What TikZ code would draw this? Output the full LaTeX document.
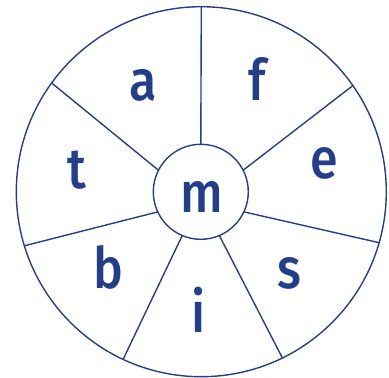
\documentclass[tikz,border=0pt]{standalone}
\usepackage{fontspec}
\setmainfont{Fira Sans Medium}[FakeStretch=0.88]
\usepackage{tikz}
\definecolor{navy}{HTML}{233F8C}

\begin{document}
\begin{tikzpicture}[
  x=1pt, y=-1pt,
  rim/.style={draw=navy, line width=1.4pt, circle, inner sep=0pt, outer sep=0pt},
  spoke/.style={draw=navy, line width=1.4pt},
  letter/.style={text=navy, anchor=base, inner sep=0pt, font=\fontsize{57}{57}\selectfont}
]
  \useasboundingbox (0,0) rectangle (389,378);
  \node[rim, minimum size=370pt] (wheel) at (201.3,191.7) {};
  \node[rim, minimum size=95pt] (hub) at (200.8,191.8) {};
  % spokes: hub angle / rim angle
  \foreach \a/\b in {90/90, 27/35.5, -25/-16.8, -67/-64.4, -113/-115.6, -155/-163.2, 153/144.5}
    \draw[spoke] (hub.\a) -- (wheel.\b);
  \node[letter] (a) at (143.3,100) {a};
  \node[letter] (f) at (257,100) {f};
  \node[letter] (e) at (324.7,178) {e};
  \node[letter] (s) at (289.7,288) {s};
  \node[letter] (i) at (198.8,332) {i};
  \node[letter] (b) at (108.8,288) {b};
  \node[letter] (t) at (77,188) {t};
  \node[letter] (m) at (201.7,212) {m};
\end{tikzpicture}
\end{document}
